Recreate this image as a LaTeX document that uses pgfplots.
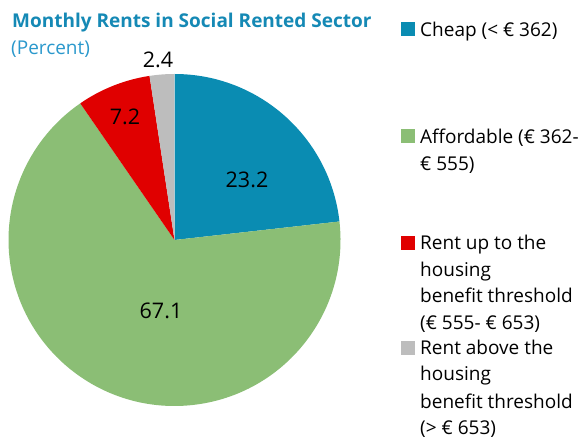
\documentclass[border=0pt]{standalone}
\usepackage{pgfplots}
\pgfplotsset{compat=1.18}
\usepackage{fontspec}
\setmainfont{Open Sans}
\definecolor{cheap}{HTML}{0A8CB2}
\definecolor{afford}{HTML}{8BBE75}
\definecolor{rentup}{HTML}{E00000}
\definecolor{rentab}{HTML}{BDBDBD}
\definecolor{titleblue}{HTML}{1589B5}
\definecolor{subblue}{HTML}{2A98CC}
\def\vA{23.2}\def\vB{67.1}\def\vC{7.2}\def\vD{2.4}
\pgfmathsetmacro\tot{\vA+\vB+\vC+\vD}
\pgfmathsetmacro\aA{90-\vA/\tot*360}
\pgfmathsetmacro\aB{\aA-\vB/\tot*360}
\pgfmathsetmacro\aC{\aB-\vC/\tot*360}
\pgfmathsetmacro\aD{\aC-\vD/\tot*360}
\begin{document}
\begin{tikzpicture}
\begin{axis}[width=584pt,height=438pt,scale only axis,xmin=0,xmax=584,ymin=0,ymax=438,y dir=reverse,hide axis,clip=false]
\coordinate (BL) at (axis cs:0,438);
\coordinate (TR) at (axis cs:584,0);
\fill[cheap] (axis cs:174.5,240) -- ([shift={(90:166pt)}]axis cs:174.5,240) arc[start angle=90,end angle=\aA,radius=166pt] -- cycle;
\fill[afford] (axis cs:174.5,240) -- ([shift={(\aA:166pt)}]axis cs:174.5,240) arc[start angle=\aA,end angle=\aB,radius=166pt] -- cycle;
\fill[rentup] (axis cs:174.5,240) -- ([shift={(\aB:166pt)}]axis cs:174.5,240) arc[start angle=\aB,end angle=\aC,radius=166pt] -- cycle;
\fill[rentab] (axis cs:174.5,240) -- ([shift={(\aC:166pt)}]axis cs:174.5,240) arc[start angle=\aC,end angle=\aD,radius=166pt] -- cycle;
% data labels
\begin{scope}[every node/.style={font=\fontsize{21.5}{24}\selectfont,inner sep=0}]
\node at (axis cs:247,180) {\vA};
\node at (axis cs:161,311) {\vB};
\node at (axis cs:125,117) {\vC};
\node at (axis cs:158,60) {\vD};
\end{scope}
% title
\node[anchor=base west,inner sep=0,text=titleblue,font=\fontsize{19}{22}\selectfont\bfseries] at (axis cs:12,28) {Monthly Rents in Social Rented Sector};
\node[anchor=base west,inner sep=0,text=subblue,font=\fontsize{19}{22}\selectfont] at (axis cs:11,55) {(Percent)};
% legend
\fill[cheap] (axis cs:401,22) rectangle (axis cs:415,36);
\fill[afford] (axis cs:401,129) rectangle (axis cs:415,143);
\fill[rentup] (axis cs:401,236) rectangle (axis cs:415,250);
\fill[rentab] (axis cs:401,341) rectangle (axis cs:415,355);
\begin{scope}[every node/.style={anchor=base west,inner sep=0,font=\fontsize{19}{22}\selectfont}]
\node at (axis cs:420,37) {Cheap (< € 362)};
\node at (axis cs:420,144) {Affordable (€ 362-};
\node at (axis cs:420,171) {€ 555)};
\node at (axis cs:420,250) {Rent up to the};
\node at (axis cs:420,276.5) {housing};
\node at (axis cs:420,303) {benefit threshold};
\node at (axis cs:420,329.5) {(€ 555- € 653)};
\node at (axis cs:420,355) {Rent above the};
\node at (axis cs:420,381) {housing};
\node at (axis cs:420,408) {benefit threshold};
\node at (axis cs:420,434) {(> € 653)};
\end{scope}
\end{axis}
\pgfresetboundingbox
\useasboundingbox (BL) rectangle (TR);
\end{tikzpicture}
\end{document}
